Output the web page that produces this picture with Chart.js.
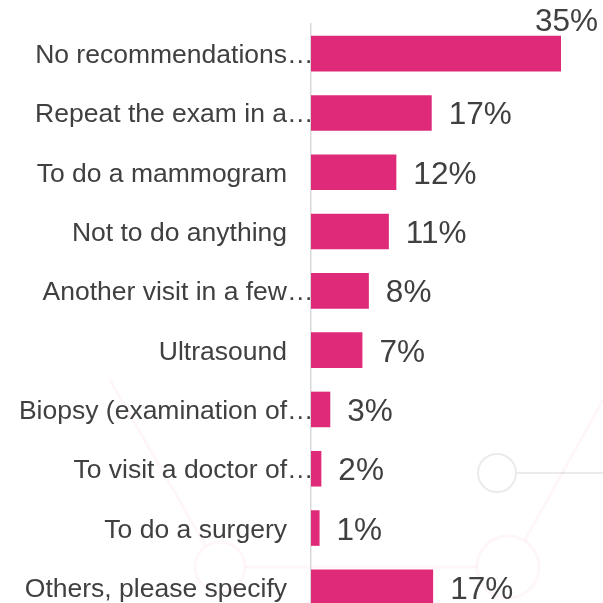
<!DOCTYPE html>
<html>
<head>
<meta charset="utf-8">
<script src="https://cdn.jsdelivr.net/npm/chart.js@4"></script>
<style>
html,body{margin:0;padding:0;background:#fff;overflow:hidden;}
#wrap{width:603px;height:617px;}
</style>
</head>
<body>
<div id="wrap"><canvas id="c" width="603" height="617"></canvas></div>
<script>
const categories = ['No recommendations…','Repeat the exam in a…','To do a mammogram','Not to do anything','Another visit in a few…','Ultrasound','Biopsy (examination of…','To visit a doctor of…','To do a surgery','Others, please specify'];
const values = [35, 16.9, 11.95, 10.9, 8.1, 7.2, 2.7, 1.45, 1.2, 17.1];
const valueLabels = ['35%','17%','12%','11%','8%','7%','3%','2%','1%','17%'];

const TEXT = '#404040';
const FONT = '"Liberation Sans", Arial, sans-serif';

const watermark = {
  id: 'watermark',
  beforeDraw(chart) {
    const ctx = chart.ctx;
    ctx.save();
    ctx.fillStyle = '#fff';
    ctx.fillRect(0, 0, chart.width, chart.height);
    ctx.strokeStyle = '#ebebeb';
    ctx.lineWidth = 2;
    ctx.beginPath(); ctx.arc(497, 473, 19, 0, Math.PI * 2); ctx.stroke();
    ctx.beginPath(); ctx.moveTo(516, 473); ctx.lineTo(603, 473); ctx.stroke();
    ctx.strokeStyle = 'rgba(224,41,122,0.045)';
    ctx.lineWidth = 3;
    ctx.beginPath(); ctx.arc(508, 567, 31, 0, Math.PI * 2); ctx.stroke();
    ctx.beginPath(); ctx.arc(220, 567, 25, 0, Math.PI * 2); ctx.stroke();
    ctx.beginPath(); ctx.moveTo(245, 567); ctx.lineTo(477, 567); ctx.stroke();
    ctx.beginPath(); ctx.moveTo(110, 380); ctx.lineTo(205, 545); ctx.stroke();
    ctx.beginPath(); ctx.moveTo(525, 540); ctx.lineTo(603, 400); ctx.stroke();
    ctx.restore();
  }
};

const labelsPlugin = {
  id: 'labelsPlugin',
  afterDatasetsDraw(chart) {
    const ctx = chart.ctx;
    const meta = chart.getDatasetMeta(0);
    const yScale = chart.scales.y;
    ctx.save();
    ctx.fillStyle = TEXT;
    ctx.font = '26.5px ' + FONT;
    ctx.textBaseline = 'alphabetic';
    const rightEdge = chart.chartArea.left - 24;
    categories.forEach((c, i) => {
      const y = yScale.getPixelForValue(i) + 9.5;
      if (c.endsWith('…')) {
        const body = c.slice(0, -1);
        ctx.textAlign = 'right';
        ctx.fillText(body, rightEdge, y);
        ctx.textAlign = 'left';
        ctx.fillText('…', rightEdge, y);
      } else {
        ctx.textAlign = 'right';
        ctx.fillText(c, rightEdge, y);
      }
    });
    ctx.font = '31.5px ' + FONT;
    meta.data.forEach((bar, i) => {
      const txt = valueLabels[i];
      const w = ctx.measureText(txt).width;
      const x = bar.x + 17;
      if (x + w > chart.width - 4) {
        ctx.textAlign = 'right';
        ctx.fillText(txt, chart.width - 5, bar.y - bar.height / 2 - 5);
      } else {
        ctx.textAlign = 'left';
        ctx.fillText(txt, x, bar.y + 11.5);
      }
    });
    ctx.restore();
  }
};

new Chart(document.getElementById('c'), {
  type: 'bar',
  data: {
    labels: categories,
    datasets: [{
      data: values,
      backgroundColor: '#DF2A79',
      borderWidth: 0,
      barPercentage: 0.6,
      categoryPercentage: 1.0
    }]
  },
  options: {
    indexAxis: 'y',
    responsive: false,
    animation: false,
    layout: { padding: { left: 311, right: 42, top: 24, bottom: 0 } },
    plugins: { legend: { display: false }, tooltip: { enabled: false } },
    scales: {
      x: { display: false, min: 0, max: 35 },
      y: {
        display: true,
        ticks: { display: false },
        grid: { display: true, drawOnChartArea: false, drawTicks: false, color: 'rgba(0,0,0,0)' },
        border: { display: true, color: '#d9d9d9', width: 1.5 },
        afterFit(s) { s.width = 0; }
      }
    }
  },
  plugins: [watermark, labelsPlugin]
});
</script>
</body>
</html>
